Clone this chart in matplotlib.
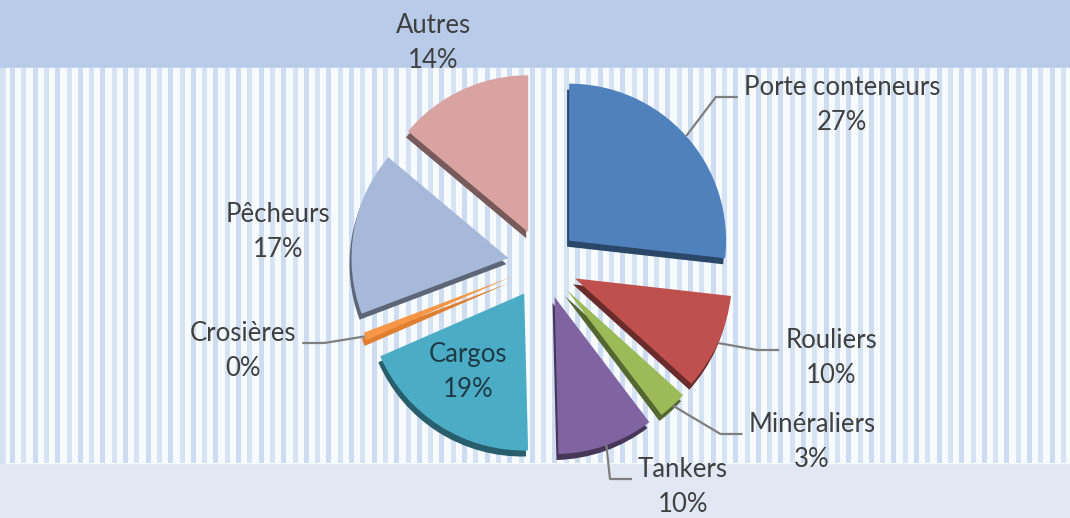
import numpy as np
import matplotlib.pyplot as plt
from matplotlib.patches import Rectangle
from matplotlib.colors import to_rgb

# pie data, clockwise from 12 o'clock
categories = ['Porte conteneurs', 'Rouliers', 'Minéraliers', 'Tankers',
              'Cargos', 'Crosières', 'Pêcheurs', 'Autres']
shares = [27, 10, 3, 10, 19, 0.8, 17, 14]
pct_labels = ['27%', '10%', '3%', '10%', '19%', '0%', '17%', '14%']
colors = ['#4f81bd', '#c0504d', '#9bbb59', '#8064a2',
          '#4bacc6', '#f79646', '#a7b9d9', '#d9a3a1']

# label centres in image pixels (x, y from top)
label_pos = [(842, 105), (831, 358), (812, 442), (683, 487),
             (468, 372), (243, 351), (278, 232), (433, 43)]
has_leader = [True, True, True, True, False, True, False, False]

W, H = 1070, 518
plt.rcParams['font.family'] = ['Lato', 'DejaVu Sans']

fig = plt.figure(figsize=(W / 100, H / 100), dpi=100)
ax = fig.add_axes([0, 0, 1, 1])

# background: blue band on top, striped plot area, pale band at the bottom
ax.add_patch(Rectangle((0, 0), W, H, color='#b8cbe9', zorder=0))
ax.add_patch(Rectangle((0, 0), W, H - 463, color='#e1e8f4', zorder=0))
ax.add_patch(Rectangle((0, H - 463), 6, 463 - 68, color='#d6e2f2', zorder=0))
ax.add_patch(Rectangle((6, H - 463), W - 6, 463 - 68, color='#f8fbfe', zorder=0))
period = 11.3
for i, x in enumerate(np.arange(10, W, period)):
    c = '#cddcf1' if i % 2 == 0 else '#d6e3f4'
    ax.add_patch(Rectangle((x, H - 463), 5, 463 - 68, color=c, lw=0, zorder=0))

center = (543, H - 264)
radius = 157
# explode is in data units here (pixels)
explode = [35] * len(shares)

# darker copy shifted down gives the 3D side
dark = [tuple(np.array(to_rgb(c)) * 0.55) for c in colors]
dark[5] = '#e07f30'  # thin orange slice keeps its colour on the side
ax.pie(shares, colors=dark, startangle=90, counterclock=False, explode=explode,
       center=(center[0] - 2, center[1] - 6), radius=radius,
       wedgeprops=dict(linewidth=0, zorder=1))
wedges, _ = ax.pie(shares, colors=colors, startangle=90, counterclock=False,
                   explode=explode, center=center, radius=radius,
                   wedgeprops=dict(linewidth=0, zorder=2))

ax.set_xlim(0, W)
ax.set_ylim(0, H)
ax.set_aspect('auto')
ax.axis('off')

texts = []
for i, (name, pct) in enumerate(zip(categories, pct_labels)):
    x, y = label_pos[i]
    tc = '#1f3a44' if name == 'Cargos' else '#404040'
    t = ax.text(x, H - y, f'{name}\n{pct}', ha='center', va='center',
                fontsize=18.5, color=tc, linespacing=1.5, zorder=5)
    texts.append(t)

fig.canvas.draw()
renderer = fig.canvas.get_renderer()
for i, w in enumerate(wedges):
    if not has_leader[i]:
        continue
    ang = np.deg2rad((w.theta1 + w.theta2) / 2)
    sx = w.center[0] + w.r * np.cos(ang)
    sy = w.center[1] + w.r * np.sin(ang)
    bb = texts[i].get_window_extent(renderer)
    ey = bb.y1 - 22
    if sx < label_pos[i][0]:
        ex = bb.x0 - 6
        kx = ex - 22
    else:
        ex = bb.x1 + 6
        kx = ex + 22
    ax.plot([sx, kx, ex], [sy, ey, ey], color='#7f7f7f', lw=1.6, zorder=4,
            solid_capstyle='butt')

fig.savefig('out.png', dpi=100)
